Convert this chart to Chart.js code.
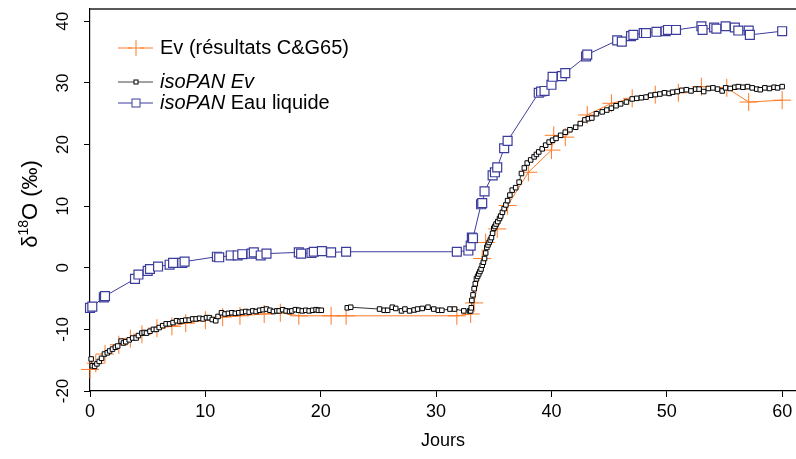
<!DOCTYPE html>
<html lang="fr">
<head>
<meta charset="utf-8">
<title>δ18O – isoPAN</title>
<script src="https://cdn.jsdelivr.net/npm/chart.js@4.4.1/dist/chart.umd.min.js"></script>
<style>
  html, body { margin: 0; padding: 0; background: #fff; }
  #cadre { position: relative; width: 796px; height: 459px; }
</style>
</head>
<body>
<div id="cadre"><canvas id="graphe"></canvas></div>
<script>
// ------------------------------------------------------------
//  δ18O de l'évaporation et de l'eau liquide (isoPAN vs C&G65)
// ------------------------------------------------------------

const POLICE = '"Liberation Sans", Arial, sans-serif';
const ORANGE = '#ff7a26';
const BLEU = '#3c3c9c';

const TICKS_JOURS = [0, 10, 20, 30, 40, 50, 60];
const TICKS_DELTA = [-20, -10, 0, 10, 20, 30, 40];

// Ev (résultats C&G65)
const joursCG = [0, 0.5, 1.3, 2.5, 3.5, 4.5, 5.8, 7.1, 8.3, 10, 11.5, 13, 15.1, 16.5, 18.1, 20.9, 22.2, 31.8, 33, 33.3,
    34, 34.3, 35.3, 36.2, 38, 40, 40.2, 41.2, 43.1, 45.2, 47, 49, 51, 53, 55.2, 57.1, 60];
const valeursCG = [-16.5, -15.5, -14, -12.5, -11.5, -10.8, -9.8, -9.5, -9.0, -8.5, -8.0, -7.8, -7.5, -7.3, -7.8, -7.8, -7.8, -7.8, -7.5, -5.7,
    1.5, 4.1, 6.3, 10.1, 15.5, 19.1, 21.5, 21.2, 24.8, 26.7, 27.5, 28.1, 28.4, 29.4, 29.2, 26.9, 27.2];

// isoPAN Ev (null = trou dans la série)
const joursEv = [
    0.1, 0.2, 0.4, 0.6, 0.8, 1.0, 1.25, 1.5, 1.7, 1.95,
    2.2, 2.4, 2.7, 2.9, 3.1, 3.4, 3.7, 4.0, 4.2, 4.5,
    4.7, 4.9, 5.2, 5.5, 5.75, 6.0, 6.3, 6.6, 6.9, 7.2,
    7.5, 7.8, 8.0, 8.3, 8.6, 8.9, 9.2, 9.5, 9.8, 10.1,
    10.35, 10.6, 10.9, 11.1, 11.4, 11.7, 12.0, 12.3, 12.6, 12.9,
    13.2, 13.5, 13.8, 14.1, 14.4, 14.7, 15.0, 15.3, 15.6, 15.9,
    16.2, 16.4, 16.7, 17.0, 17.3, 17.5, 17.8, 18.1, 18.4, 18.7,
    19.0, 19.3, 19.6, 19.8, 20.05,
    21.2,
    22.3, 22.6,
    25.1, 25.5, 25.8, 26.2, 26.5, 27.0, 27.3, 27.7, 28.1, 28.4,
    28.8, 29.3, 29.8, 30.2, 30.5, 31.2, 31.6, 32.4, 32.9,
    33.0, 33.05, 33.1, 33.2, 33.3, 33.4, 33.5, 33.6, 33.7, 33.8,
    33.9, 34.0, 34.1, 34.2, 34.3, 34.4, 34.5, 34.6, 34.7, 34.8,
    34.9, 35.0, 35.1, 35.2, 35.35, 35.5, 35.6, 35.75, 35.9, 36.05,
    36.2, 36.4, 36.6, 36.9, 37.2,
    37.4, 37.65, 37.9, 38.2, 38.5, 38.7, 38.9, 39.2, 39.5, 39.8,
    40.1, 40.4, 40.8, 41.2, 41.6, 42.1, 42.5, 42.9, 43.2, 43.5,
    43.9, 44.4, 44.8, 45.2, 45.6, 46.0, 46.5, 47.0, 47.4, 47.8,
    48.2, 48.6, 49.0, 49.4, 49.8, 50.2, 50.5, 50.9, 51.3, 51.7,
    52.1, 52.5, 52.8, 53.2, 53.6, 54.0, 54.4, 54.8, 55.1, 55.5,
    55.9, 56.2, 56.6, 57.0, 57.4, 57.8, 58.1, 58.5, 58.9, 59.3,
    59.6, 60.0,
];
const valeursEv = [
    -14.8, -15.9, -16.0, -15.6, -15.2, -14.7, -14.0, -13.8, -13.5, -13.2,
    -12.9, -12.7, -11.9, -12.2, -12.0, -11.7, -11.4, -11.4, -11.0, -10.6,
    -10.5, -10.6, -10.3, -10.0, -10.0, -9.7, -9.4, -9.1, -9.1, -8.9,
    -8.6, -8.7, -8.6, -8.5, -8.5, -8.3, -8.3, -8.2, -8.3, -8.1,
    -8.1, -8.4, -8.6, -7.9, -7.3, -7.5, -7.4, -7.3, -7.4, -7.3,
    -7.2, -7.1, -7.2, -7.0, -7.1, -6.9, -6.8, -6.7, -6.9, -7.1,
    -7.0, -7.0, -6.8, -7.0, -7.1, -7.0, -6.8, -6.9, -7.0, -6.9,
    -7.0, -6.9, -6.8, -6.9, -6.9,
    null,
    -6.5, -6.4,
    -6.7, -6.9, -6.9, -6.4, -6.6, -7.0, -6.7, -7.0, -6.85, -6.7,
    -6.6, -6.4, -6.7, -6.9, -6.9, -6.7, -6.7, -7.0, -7.0,
    -7.0, -6.5, -5.3, -4.4, -3.4, -2.6, -1.8, -1.4, -1.0, -0.6,
    -0.2, 0.4, 0.9, 1.5, 2.4, 3.3, 3.7, 4.1, 4.5, 4.9,
    5.6, 6.4, 6.7, 7.1, 7.5, 8.0, 8.4, 9.0, 9.6, 10.2,
    10.9, 11.8, 12.6, 13.0, 13.9,
    15.3, 16.2, 17.0, 17.5, 18.0, 18.4, 18.8, 19.3, 19.9, 20.4,
    20.7, 21.0, 21.5, 22.0, 22.4, 22.8, 23.4, 24.0, 24.2, 24.3,
    25.0, 25.3, 25.6, 25.9, 26.3, 26.6, 26.9, 27.4, 27.5, 27.6,
    27.7, 28.0, 28.1, 28.2, 28.4, 28.3, 28.5, 28.6, 28.8, 28.9,
    28.7, 29.0, 29.0, 28.6, 29.1, 29.2, 29.0, 28.7, 29.2, 29.1,
    29.3, 29.4, 29.3, 29.4, 29.2, 29.0, 28.9, 29.2, 29.1, 29.3,
    29.2, 29.4,
];

// isoPAN Eau liquide
const joursEau = [0.0, 0.2, 1.2, 1.3, 3.9, 4.2, 5.0, 5.2, 5.9, 6.9, 7.2, 8.0, 8.2, 11.0, 11.2, 12.2, 12.8, 13.2, 14.0, 14.2,
    14.8, 15.3, 18.1, 18.3, 19.2, 19.4, 20.1, 20.9, 22.2, 31.8, 32.8, 33.0, 33.1, 33.2, 33.9, 34.0, 34.2, 34.9, 35.1, 35.3,
    35.9, 36.2, 38.9, 39.1, 39.4, 40.0, 40.1, 40.9, 41.2, 43.0, 43.1, 45.7, 46.1, 46.9, 47.1, 48.0, 48.2, 49.1, 49.9, 50.1,
    50.8, 53.0, 53.1, 54.1, 54.3, 55.1, 55.9, 56.2, 57.1, 57.2, 60.0];
const valeursEau = [-6.5, -6.3, -4.8, -4.6, -1.8, -1.1, -0.5, -0.2, 0.2, 0.5, 0.8, 0.8, 1.0, 1.8, 1.7, 2.0, 2.0, 2.2, 2.3, 2.5,
    2.0, 2.3, 2.5, 2.3, 2.4, 2.6, 2.7, 2.5, 2.6, 2.6, 2.8, 3.6, 4.9, 4.8, 10.3, 10.5, 12.4, 15.0, 15.5, 16.3,
    19.4, 20.6, 28.4, 28.6, 28.7, 29.7, 31.0, 31.1, 31.6, 34.3, 34.6, 36.9, 36.7, 37.6, 37.8, 38.1, 38.1, 38.3, 38.4, 38.6,
    38.6, 39.2, 38.6, 39.0, 38.8, 39.2, 39.0, 38.5, 38.5, 37.8, 38.4];

const enPoints = (xs, ys) => xs.map((x, i) => ({ x, y: ys[i] }));

// graduations imposées (Chart.js supprime sinon celle trop proche du max)
const imposerTicks = (liste) => (scale) => {
    scale.ticks = liste.map(value => ({ value }));
};

// pas de marge automatique autour de la zone de tracé
const figerAxe = (prop, taille) => (scale) => {
    scale[prop] = taille;
    scale.paddingLeft = 0;
    scale.paddingRight = 0;
    scale.paddingTop = 0;
    scale.paddingBottom = 0;
};

// légende, titre δ18O et trait du haut : dessinés à la main
const decorations = {
    id: 'decorations',
    afterDraw(chart) {
        const { ctx, chartArea } = chart;
        ctx.save();

        ctx.strokeStyle = '#222';
        ctx.lineWidth = 1.5;
        ctx.beginPath();
        ctx.moveTo(chartArea.left, chartArea.top);
        ctx.lineTo(chartArea.right, chartArea.top);
        ctx.stroke();

        // titre de l'axe Y avec exposant
        ctx.translate(31, 204);
        ctx.rotate(-Math.PI / 2);
        ctx.fillStyle = '#000';
        ctx.textBaseline = 'middle';
        const gros = `22px ${POLICE}`, petit = `14px ${POLICE}`;
        ctx.font = gros; const w1 = ctx.measureText('δ').width;
        ctx.font = petit; const w2 = ctx.measureText('18').width;
        ctx.font = gros; const w3 = ctx.measureText('O (‰)').width;
        let x0 = -(w1 + w2 + w3) / 2;
        ctx.textAlign = 'left';
        ctx.font = gros; ctx.fillText('δ', x0, 0); x0 += w1;
        ctx.font = petit; ctx.fillText('18', x0, -7); x0 += w2;
        ctx.font = gros; ctx.fillText('O (‰)', x0, 0);
        ctx.restore();

        // légende
        ctx.save();
        ctx.textBaseline = 'middle';
        ctx.textAlign = 'left';
        const x1 = 118, x2 = 153, xm = 136, xt = 160;
        const lignes = [
            { y: 48, couleur: ORANGE },
            { y: 82, couleur: '#444' },
            { y: 103, couleur: BLEU },
        ];
        lignes.forEach((l, i) => {
            ctx.strokeStyle = l.couleur;
            ctx.lineWidth = 1;
            ctx.beginPath();
            if (i === 0) {
                ctx.moveTo(x1, l.y); ctx.lineTo(xm - 4, l.y);
                ctx.moveTo(xm + 4, l.y); ctx.lineTo(x2, l.y);
                ctx.moveTo(xm - 8, l.y); ctx.lineTo(xm + 8, l.y);
                ctx.moveTo(xm, l.y - 8); ctx.lineTo(xm, l.y + 8);
            } else {
                ctx.moveTo(x1, l.y); ctx.lineTo(x2, l.y);
            }
            ctx.stroke();
        });
        ctx.fillStyle = '#fff';
        ctx.strokeStyle = '#000';
        ctx.fillRect(xm - 2, 80, 4, 4); ctx.strokeRect(xm - 2, 80, 4, 4);
        ctx.strokeStyle = BLEU;
        ctx.fillRect(xm - 4, 99, 8, 8); ctx.strokeRect(xm - 4, 99, 8, 8);

        ctx.fillStyle = '#000';
        const normal = `20px ${POLICE}`, italique = `italic 20px ${POLICE}`;
        ctx.font = normal;
        ctx.fillText('Ev (résultats C&G65)', xt, 48);
        ctx.font = italique;
        ctx.fillText('isoPAN Ev', xt, 82);
        ctx.fillText('isoPAN', xt, 103);
        const wIso = ctx.measureText('isoPAN').width;
        ctx.font = normal;
        ctx.fillText(' Eau liquide', xt + wIso, 103);
        ctx.restore();
    },
};

new Chart(document.getElementById('graphe'), {
    type: 'scatter',
    data: {
        datasets: [
            {
                label: 'Ev (résultats C&G65)',
                data: enPoints(joursCG, valeursCG),
                showLine: true,
                borderColor: ORANGE,
                borderWidth: 1,
                pointStyle: 'cross',
                pointRadius: 9,
                pointBorderColor: ORANGE,
                pointBorderWidth: 1,
                order: 3,
                clip: false,
            },
            {
                label: 'isoPAN Ev',
                data: enPoints(joursEv, valeursEv),
                showLine: true,
                spanGaps: false,
                borderColor: '#333',
                borderWidth: 1,
                pointStyle: 'rect',
                pointRadius: 3.2,
                pointBorderColor: '#000',
                pointBackgroundColor: '#fff',
                pointBorderWidth: 1,
                order: 2,
                clip: false,
            },
            {
                label: 'isoPAN Eau liquide',
                data: enPoints(joursEau, valeursEau),
                showLine: true,
                borderColor: BLEU,
                borderWidth: 1,
                pointStyle: 'rect',
                pointRadius: 6.3,
                pointBorderColor: BLEU,
                pointBackgroundColor: '#fff',
                pointBorderWidth: 1.2,
                order: 1,
                clip: false,
            },
        ],
    },
    options: {
        responsive: true,
        maintainAspectRatio: false,
        animation: false,
        layout: { autoPadding: false, padding: { top: 9, right: 0, left: 0, bottom: 0 } },
        plugins: {
            legend: { display: false },
            tooltip: { enabled: false },
        },
        scales: {
            x: {
                type: 'linear',
                min: 0,
                max: 61.2,
                afterBuildTicks: imposerTicks(TICKS_JOURS),
                afterFit: figerAxe('height', 68),
                grid: { drawOnChartArea: false, tickLength: 6, color: '#000' },
                border: { display: true, color: '#000', width: 1.2 },
                ticks: {
                    padding: 4, color: '#000',
                    maxRotation: 0, minRotation: 0,
                    font: { family: POLICE, size: 18 },
                },
                title: {
                    display: true, text: 'Jours', color: '#000',
                    font: { family: POLICE, size: 18 },
                    padding: { top: 0, bottom: 7 },
                },
            },
            y: {
                type: 'linear',
                min: -20,
                max: 42,
                afterBuildTicks: imposerTicks(TICKS_DELTA),
                afterFit: figerAxe('width', 90),
                grid: { drawOnChartArea: false, tickLength: 6, color: '#000' },
                border: { display: true, color: '#000', width: 1.2 },
                ticks: {
                    padding: 8, color: '#000',
                    minRotation: 90, maxRotation: 90, crossAlign: 'center',
                    font: { family: POLICE, size: 17 },
                },
            },
        },
    },
    plugins: [decorations],
});
</script>
</body>
</html>
